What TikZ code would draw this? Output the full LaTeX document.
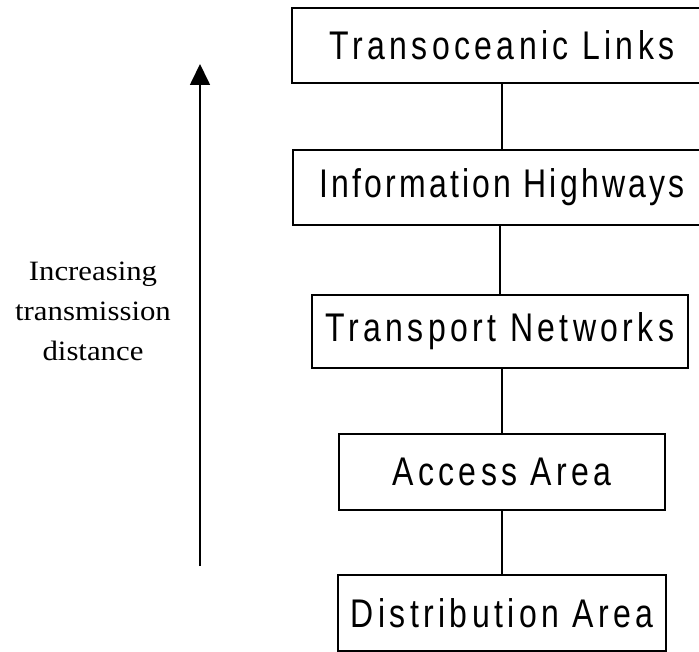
\documentclass[tikz,border=0pt]{standalone}
\usepackage{fontspec}
\usetikzlibrary{arrows.meta}
\newfontfamily\boxfont[FakeStretch=0.8,LetterSpace=11]{Liberation Sans}
\newfontfamily\labelfont[FakeStretch=1.1]{Liberation Serif}
\tikzset{
  levelbox/.style={draw, line width=1.3pt, inner sep=0pt, minimum height=56.5pt,
    font=\boxfont\fontsize{30}{32}\selectfont},
  levellink/.style={line width=1pt}
}
\begin{document}
\begin{tikzpicture}[x=0.75pt,y=0.75pt,yscale=-1,xscale=1]
        \useasboundingbox (0,0) rectangle (699,652);
        \clip (0,0) rectangle (699,652);

        %Shape: Rectangle
        \node [levelbox, minimum width=315pt] (trans) at (502,45.5) {Transoceanic Links};
        %Shape: Rectangle
        \node [levelbox, minimum width=313.5pt] (info) at (502,187.5) {\addfontfeature{LetterSpace=8}Information Highways};
        %Shape: Rectangle
        \node [levelbox, minimum width=282pt, minimum height=55pt] (transport) at (500,331.5) {Transport Networks};
        %Shape: Rectangle
        \node [levelbox, minimum width=245pt, minimum height=57pt] (access) at (502,472) {Access Area};
        %Shape: Rectangle
        \node [levelbox, minimum width=246pt, minimum height=57pt] (distrib) at (502,613) {Distribution Area};

        %Straight Lines
        \draw [levellink] (trans) -- (info);
        %Straight Lines
        \draw [levellink] (info.south -| transport.north) -- (transport);
        %Straight Lines
        \draw [levellink] (transport.south -| access.north) -- (access);
        %Straight Lines
        \draw [levellink] (access) -- (distrib);

        %Straight Lines
        \coordinate (arrbot) at (200,566);
        \coordinate (arrtop) at (200,64);
        \draw [line width=1.3pt, -{Triangle[length=15.75pt,width=15pt]}] (arrbot) -- (arrtop);

        %Text
        \node [align=center, font=\labelfont\fontsize{21}{30}\selectfont] (distlabel) at (93,311) {Increasing\\transmission\\distance};
\end{tikzpicture}
\end{document}
